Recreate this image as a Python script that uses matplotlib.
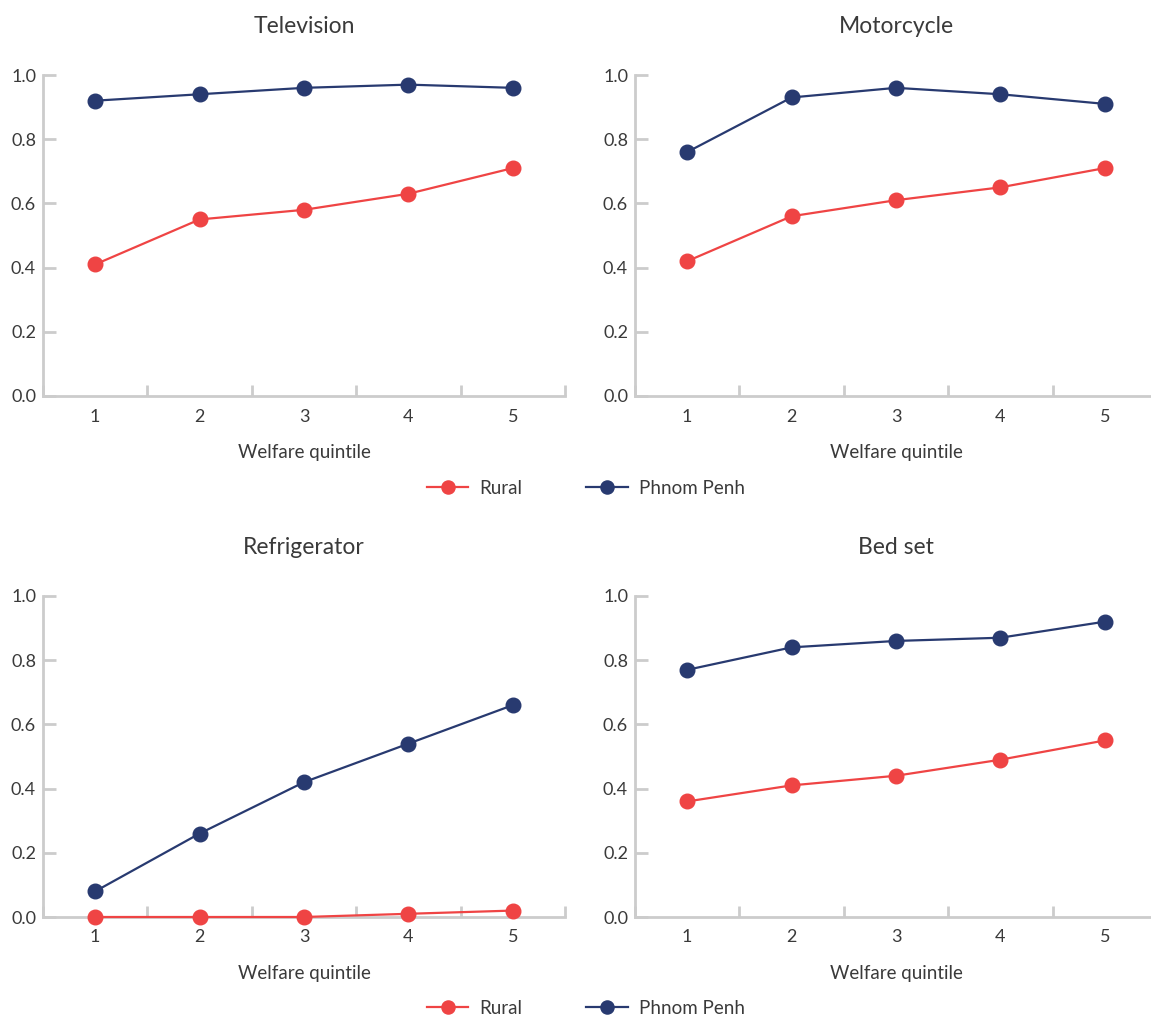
import matplotlib
matplotlib.use("Agg")
import matplotlib.pyplot as plt
from matplotlib.ticker import FixedLocator

plt.rcParams['font.family'] = ['Lato', 'DejaVu Sans']
plt.rcParams['font.weight'] = 'normal'

quintiles = [1, 2, 3, 4, 5]
titles = ["Television", "Motorcycle", "Refrigerator", "Bed set"]
rural = {
    "Television": [0.41, 0.55, 0.58, 0.63, 0.71],
    "Motorcycle": [0.42, 0.56, 0.61, 0.65, 0.71],
    "Refrigerator": [0.00, 0.00, 0.00, 0.01, 0.02],
    "Bed set": [0.36, 0.41, 0.44, 0.49, 0.55],
}
phnom_penh = {
    "Television": [0.92, 0.94, 0.96, 0.97, 0.96],
    "Motorcycle": [0.76, 0.93, 0.96, 0.94, 0.91],
    "Refrigerator": [0.08, 0.26, 0.42, 0.54, 0.66],
    "Bed set": [0.77, 0.84, 0.86, 0.87, 0.92],
}
yticks = [0.0, 0.2, 0.4, 0.6, 0.8, 1.0]
xlabel = "Welfare quintile"
series_names = ["Rural", "Phnom Penh"]

RED = "#ef4444"
NAVY = "#283a70"
GRID = "#cccccc"
TXT = "#3a3a3a"

W, H = 1151, 1016
fig = plt.figure(figsize=(W / 100, H / 100), dpi=100)

def ax_rect(x0, x1, ytop, ybot):
    return [x0 / W, 1 - ybot / H, (x1 - x0) / W, (ybot - ytop) / H]

rects = [
    ax_rect(43, 565, 75, 396),
    ax_rect(635, 1157, 75, 396),
    ax_rect(43, 565, 596, 917),
    ax_rect(635, 1157, 596, 917),
]

for t, r in zip(titles, rects):
    ax = fig.add_axes(r)
    l1, = ax.plot(quintiles, rural[t], color=RED, lw=1.6, marker='o', ms=10.5,
                  label=series_names[0], clip_on=False, zorder=3)
    l2, = ax.plot(quintiles, phnom_penh[t], color=NAVY, lw=1.6, marker='o', ms=10.5,
                  label=series_names[1], clip_on=False, zorder=3)
    ax.set_xlim(0.5, 5.5)
    ax.set_ylim(0, 1.0)
    ax.set_yticks(yticks)
    ax.set_yticklabels([f"{v:.1f}" for v in yticks])
    ax.set_xticks(quintiles)
    ax.set_xticklabels([str(q) for q in quintiles])
    ax.xaxis.set_minor_locator(FixedLocator([0.5, 1.5, 2.5, 3.5, 4.5, 5.5]))
    for s in ["top", "right"]:
        ax.spines[s].set_visible(False)
    for s in ["left", "bottom"]:
        ax.spines[s].set_color(GRID)
        ax.spines[s].set_linewidth(2)
    ax.tick_params(axis='y', direction='in', length=9, width=2, color=GRID,
                   labelsize=13, labelcolor=TXT, pad=5)
    ax.tick_params(axis='x', which='major', length=0, labelsize=13, labelcolor=TXT, pad=9)
    ax.tick_params(axis='x', which='minor', direction='in', length=8, width=2, color=GRID)
    ax.set_title(t, fontsize=16.5, color=TXT, pad=30.5, fontweight='normal')
    ax.set_xlabel(xlabel, fontsize=13.5, color=TXT, labelpad=14)

for ly in (488, 1008):
    fig.legend(handles=[l1, l2], labels=series_names, loc='center',
               bbox_to_anchor=(586 / W, 1 - ly / H), ncol=2, frameon=False,
               fontsize=13.5, markerscale=0.9, handlelength=2.2, columnspacing=3.4,
               handletextpad=0.6, labelcolor=TXT)

fig.savefig("out.png", dpi=100)
